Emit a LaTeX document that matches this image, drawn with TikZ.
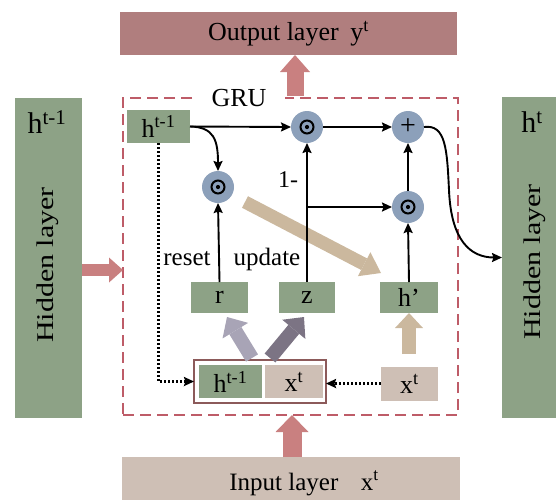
\documentclass[tikz,border=0pt]{standalone}
\usepackage{fontspec}
\usepackage{graphicx}
\setmainfont{Liberation Serif}
\usetikzlibrary{arrows.meta,calc}
\definecolor{sage}{RGB}{141,162,134}
\definecolor{rosy}{RGB}{176,126,126}
\definecolor{rosyarrow}{RGB}{201,128,128}
\definecolor{beige}{RGB}{206,191,181}
\definecolor{bluegray}{RGB}{140,160,186}
\definecolor{tanarrow}{RGB}{203,184,158}
\definecolor{dashred}{RGB}{190,92,104}
\definecolor{lilac}{RGB}{168,164,182}
\definecolor{plum}{RGB}{124,116,132}
\definecolor{boxbrown}{RGB}{140,90,90}
\newcommand\fs[1]{\fontsize{#1}{#1}\selectfont}
\begin{document}
\begin{tikzpicture}[x=1pt,y=-1pt,
  every node/.style={inner sep=0pt,outer sep=0pt},
  gbox/.style={fill=sage,font=\fs{26}},
  bbox/.style={fill=beige,font=\fs{26}},
  op/.style={circle,fill=bluegray,minimum size=32pt},
  dotop/.style={op,path picture={
     \draw[black,line width=2pt] (path picture bounding box.center) circle (6.5pt);
     \fill[black] (path picture bounding box.center) circle (2.1pt);}},
  wire/.style={draw=black,line width=1.9pt,-{Stealth[length=10pt,width=9pt,inset=1.5pt]}},
  dotwire/.style={draw=black,line width=2.2pt,dash pattern=on 2pt off 2pt,-{Stealth[length=10pt,width=9pt,inset=1.5pt]}},
  fat/.style n args={3}{line width=#1,-{Triangle[length=#3,width=#2,line width=0pt]}},
  lbl/.style={font=\fs{25}}
]
\useasboundingbox (0,0) rectangle (556,499);

% outer layers
\node[fill=rosy,minimum width=337pt,minimum height=43pt,font=\fs{26}] (out) at (288.5,33.5)
  {Output layer\hspace{0.45em}y\textsuperscript{t}};
\node[fill=beige,minimum width=338pt,minimum height=60pt] (inp) at (291,487) {};
\node[font=\fs{25},anchor=base] (inptxt) at (304,490) {Input layer\hspace{0.9em}x\textsuperscript{t}};
\node[fill=sage,minimum width=67pt,minimum height=320pt] (lh) at (48.5,258) {};
\node[font=\fs{30}] (lhh) at (47,122) {h\textsuperscript{t-1}};
\node[font=\fs{30}] (lht) at (47.3,265) {\scalebox{0.8}[1]{\rotatebox{90}{Hidden layer}}};
\node[fill=sage,minimum width=60pt,minimum height=321pt] (rh) at (532,257.5) {};
\node[font=\fs{30}] (rhh) at (532,122) {h\textsuperscript{t}};
\node[font=\fs{30}] (rht) at (534.3,262) {\scalebox{0.8}[1]{\rotatebox{90}{Hidden layer}}};

% GRU frame
\node[draw=dashred,line width=2pt,dash pattern=on 11pt off 6pt,minimum width=335pt,minimum height=317pt] (gru) at (290.5,256.5) {};
\node[fill=white,font=\fs{26},minimum width=92pt,minimum height=6pt] (grut) at (239,98) {GRU};

% inner boxes
\node[gbox,minimum width=63pt,minimum height=33pt] (hprev) at (158.5,126.5) {h\textsuperscript{t-1}};
\node[gbox,minimum width=57pt,minimum height=31pt] (r) at (219.5,297.5) {r};
\node[gbox,minimum width=56pt,minimum height=31pt] (z) at (307,297.5) {z};
\node[gbox,minimum width=58pt,minimum height=31pt] (hp) at (409,297.5) {h'};
\node[draw=boxbrown,line width=1.2pt,minimum width=132pt,minimum height=43pt] (combo) at (260,381.5) {};
\node[gbox,minimum width=63pt,minimum height=33pt] (hprev2) at (230.5,381.5) {h\textsuperscript{t-1}};
\node[bbox,minimum width=58pt,minimum height=33pt] (xt2) at (294,381.5) {x\textsuperscript{t}};
\node[bbox,minimum width=57pt,minimum height=34pt] (xin) at (409.5,383.5) {x\textsuperscript{t}};

% operators
\node[dotop] (o1) at (307,127) {};
\node[op,font=\fs{28}] (plus) at (408,127) {+};
\node[dotop] (oR) at (218,187) {};
\node[dotop] (o2) at (408,207) {};

% labels
\node[lbl] (reset) at (187,259) {reset};
\node[lbl] (update) at (267,259) {update};
\node[font=\fs{24}] (onem) at (288,180) {1-};

% block arrows
\coordinate (outarr) at (295,96);
\draw[draw=rosyarrow,fat={17pt}{30pt}{17pt}] (outarr) -- (outarr |- out.south);
\coordinate (inarr) at (292,457);
\draw[draw=rosyarrow,fat={19pt}{33pt}{17pt}] (inarr) -- (inarr |- gru.south);
\coordinate (leftarr) at (82,270);
\draw[draw=rosyarrow,fat={12pt}{25pt}{14pt}] (leftarr) -- (leftarr -| gru.west);
\coordinate (rs) at (252,358); \coordinate (re) at (227,317);
\draw[draw=lilac,fat={14pt}{30pt}{16pt}] (rs) -- (re);
\coordinate (zs) at (270,358); \coordinate (ze) at (304,317);
\draw[draw=plum,fat={14pt}{30pt}{16pt}] (zs) -- (ze);
\coordinate (hs) at (409,354);
\draw[draw=tanarrow,fat={14pt}{28pt}{15pt}] (hs) -- (hs |- hp.south);
\coordinate (ds) at (245,202); \coordinate (de) at (381,273);
\draw[draw=tanarrow,fat={13pt}{27pt}{19pt}] (ds) -- (de);

% wires
\draw[wire] (hprev.east) -- (o1.west);
\draw[wire] (hprev.east) .. controls (214,127) and (218,140) .. (oR.north);
\draw[wire] (o1.east) -- (plus.west);
\draw[wire] (r.north) -- (oR.south);
\draw[wire] (z.north) -- (o1.south);
\coordinate (zb) at (z.north |- o2.west);
\draw[wire] (zb) -- (o2.west);
\draw[wire] (hp.north) -- (o2.south);
\draw[wire] (o2.north) -- (plus.south);
\draw[wire] (plus.east) .. controls (446,124) and (447,150) .. (449,190)
   .. controls (451,240) and (470,257.5) .. (rh.west);
\draw[dotwire] (hprev.south) |- (combo.west);
\draw[dotwire] (xin.west) -- (xin.west -| combo.east);
\end{tikzpicture}
\end{document}
